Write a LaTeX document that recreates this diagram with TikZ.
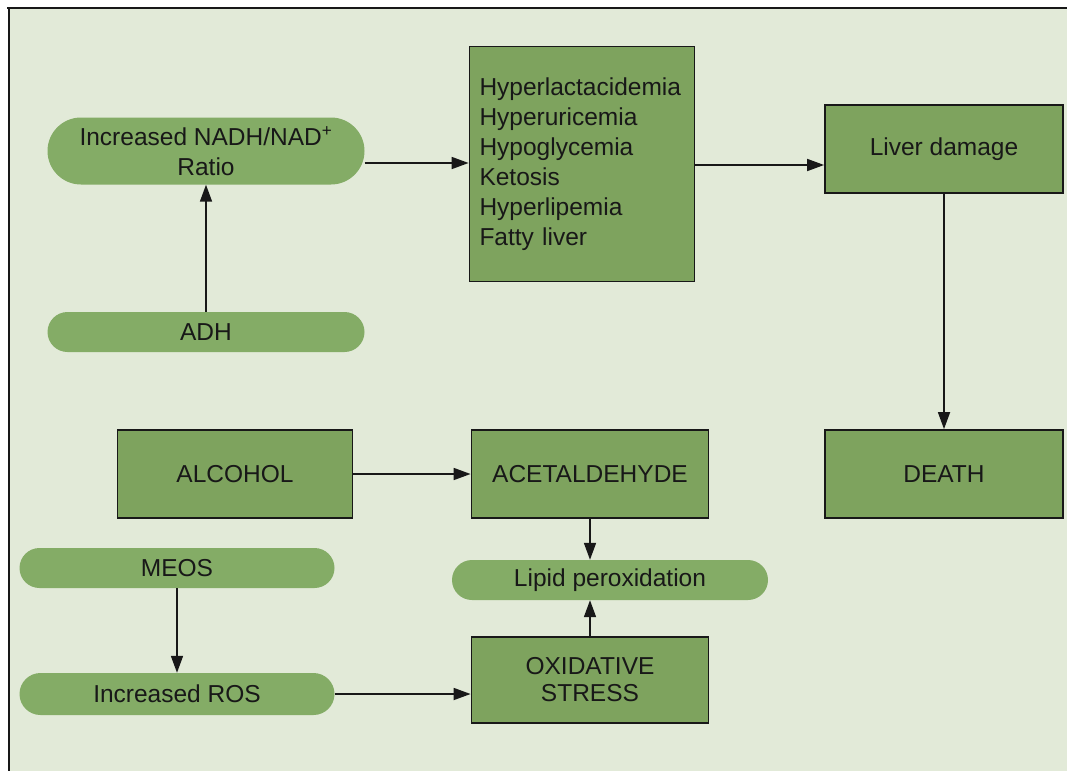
\documentclass[tikz,border=0pt]{standalone}
\usepackage{fontspec}
\setmainfont{Liberation Sans}
\usetikzlibrary{arrows.meta,shapes.misc}
\definecolor{bg}{RGB}{226,234,216}
\definecolor{boxgreen}{RGB}{126,163,94}
\definecolor{pillgreen}{RGB}{132,172,102}
\definecolor{ink}{RGB}{24,24,24}
\tikzset{
  txt/.style={font=\fontsize{24.5}{30}\selectfont, text=ink},
  greenbox/.style={txt, draw=ink, line width=1.8pt, fill=boxgreen, rectangle,
    inner sep=0pt, align=center},
  pill/.style={txt, fill=pillgreen, rounded rectangle, inner sep=0pt, align=center},
  conn/.style={draw=ink, line width=1.7pt, -{Triangle[length=17pt,width=12pt]}}
}
\begin{document}
\begin{tikzpicture}[x=1pt,y=-1pt]
\useasboundingbox (0,0) rectangle (1067,771);
\fill[white] (0,0) rectangle (1067,771);
\fill[bg] (9,8) rectangle (1067,771);
\draw[ink, line width=2pt] (7,8) -- (1067,8);
\draw[ink, line width=2pt] (9,8) -- (9,771);

% pills
\node[pill, minimum width=317pt, minimum height=67pt] (nadh) at (206,151)
  {Increased NADH/NAD\textsuperscript{+}\\Ratio};
\node[pill, minimum width=317pt, minimum height=40pt] (adh) at (206,332) {ADH};
\node[pill, minimum width=316pt, minimum height=40pt] (lipid) at (610,580) {Lipid peroxidation};
\node[pill, minimum width=315pt, minimum height=40pt] (meos) at (177,568) {MEOS};
\node[pill, minimum width=315pt, minimum height=42pt] (ros) at (177,694) {Increased ROS};

% boxes
\node[greenbox, minimum width=225pt, minimum height=235pt, text width=205pt,
  align=left, inner xsep=10pt, font=\fontsize{24.5}{30}\selectfont] (hyper) at (582,164)
  {Hyperlactacidemia\\Hyperuricemia\\Hypoglycemia\\Ketosis\\Hyperlipemia\\Fatty liver};
\node[greenbox, minimum width=238pt, minimum height=88pt] (liver) at (944,149) {Liver damage};
\node[greenbox, minimum width=238pt, minimum height=88pt] (death) at (944,474) {DEATH};
\node[greenbox, minimum width=235pt, minimum height=88pt] (alcohol) at (235,474) {ALCOHOL};
\node[greenbox, minimum width=237pt, minimum height=88pt] (acet) at (590,474) {ACETALDEHYDE};
\node[greenbox, minimum width=237pt, minimum height=86pt, font=\fontsize{24.5}{27}\selectfont] (oxid) at (590,680) {OXIDATIVE\\STRESS};

% connectors
\draw[conn] ([yshift=-12pt]nadh.east) -- ([yshift=-12pt]nadh.east -| hyper.west);
\draw[conn] ([yshift=-1pt]hyper.east) -- ([yshift=-1pt]hyper.east -| liver.west);
\draw[conn] (adh.north) -- (nadh.south);
\draw[conn] (liver.south) -- (death.north);
\draw[conn] (alcohol.east) -- (acet.west);
\draw[conn] (acet.south) -- (acet.south |- lipid.north);
\draw[conn] (oxid.north) -- (oxid.north |- lipid.south);
\draw[conn] (meos.south) -- (ros.north);
\draw[conn] (ros.east) -- (ros.east -| oxid.west);
\end{tikzpicture}
\end{document}
